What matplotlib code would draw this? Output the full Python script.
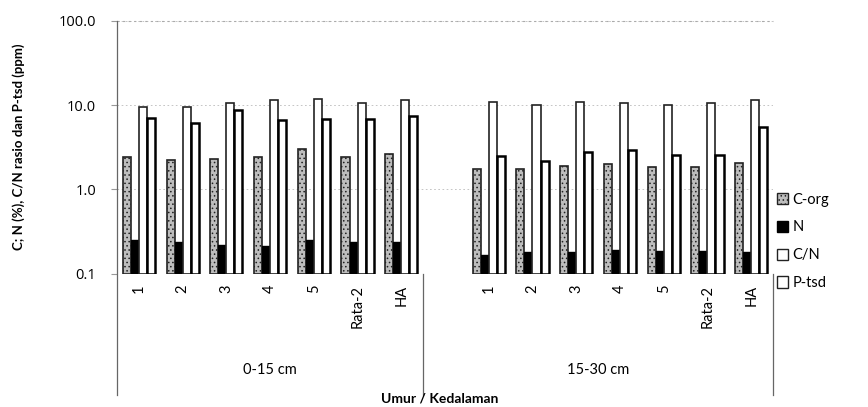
import matplotlib

matplotlib.use("Agg")
import matplotlib.pyplot as plt  # noqa: E402
import numpy as np  # noqa: E402
from matplotlib.patches import Patch  # noqa: E402
from matplotlib.transforms import blended_transform_factory  # noqa: E402

plt.rcParams["font.family"] = ["Lato", "DejaVu Sans"]
plt.rcParams["hatch.linewidth"] = 0.6

# categories per depth band
umur = ["1", "2", "3", "4", "5", "Rata-2", "HA"]
kedalaman = ["0-15 cm", "15-30 cm"]

# 0-15 cm
c_org_1 = [2.40, 2.21, 2.31, 2.40, 2.98, 2.44, 2.60]
n_1 = [0.25, 0.24, 0.22, 0.21, 0.25, 0.235, 0.235]
cn_1 = [9.55, 9.47, 10.6, 11.6, 11.8, 10.5, 11.4]
ptsd_1 = [7.07, 6.07, 8.65, 6.64, 6.83, 6.88, 7.41]

# 15-30 cm
c_org_2 = [1.73, 1.76, 1.91, 1.98, 1.85, 1.84, 2.03]
n_2 = [0.165, 0.182, 0.18, 0.19, 0.187, 0.184, 0.18]
cn_2 = [10.9, 10.0, 10.9, 10.5, 10.0, 10.5, 11.6]
ptsd_2 = [2.48, 2.17, 2.79, 2.95, 2.57, 2.57, 5.48]

# one empty slot between the two depth bands
x1 = np.arange(len(umur))
x2 = np.arange(len(umur)) + len(umur) + 1
x = np.concatenate([x1, x2])
c_org = c_org_1 + c_org_2
n = n_1 + n_2
cn = cn_1 + cn_2
ptsd = ptsd_1 + ptsd_2

fig = plt.figure(figsize=(8.68, 4.07), dpi=100)
ax = fig.add_axes([0.1348, 0.3278, 0.7558, 0.6213])

w = 0.184
base = 0.1
ax.bar(x - 1.5 * w, np.array(c_org) - base, w, bottom=base, color="#bdbdbd",
       edgecolor="#222222", hatch="....", linewidth=1.2)
ax.bar(x - 0.5 * w, np.array(n) - base, w, bottom=base, color="black",
       edgecolor="black", linewidth=1.0)
ax.bar(x + 0.5 * w, np.array(cn) - base, w, bottom=base, color="white",
       edgecolor="#222222", linewidth=1.2)
ax.bar(x + 1.5 * w, np.array(ptsd) - base, w, bottom=base, color="white",
       edgecolor="black", linewidth=1.8)

ax.set_yscale("log")
ax.set_ylim(0.1, 100)
ax.set_xlim(-0.5, x2[-1] + 0.5)
ax.set_yticks([0.1, 1, 10, 100])
ax.set_yticklabels(["0.1", "1.0", "10.0", "100.0"], family="Open Sans", fontsize=10.5)
ax.yaxis.set_minor_locator(matplotlib.ticker.NullLocator())
ax.tick_params(axis="y", length=4, color="#999999", pad=11)
ax.yaxis.grid(True, linestyle=(0, (2, 3)), color="#bbbbbb", linewidth=0.6)
ax.set_axisbelow(True)

ax.set_xticks(x)
ax.set_xticklabels(umur + umur, rotation=90, fontsize=10.5)
ax.tick_params(axis="x", length=0, pad=8)

for side in ["top", "right", "bottom", "left"]:
    ax.spines[side].set_visible(False)

# top border of the plot area
ax.axhline(100, color="#aaaaaa", linestyle=(0, (2, 3)), linewidth=0.8, clip_on=False)

# vertical dividers of the two-level category axis
tr = blended_transform_factory(ax.transData, ax.transAxes)
for xd, top in [(-0.5, 1.0), (len(umur) - 0.5, 0.0), (x2[-1] + 0.5, 0.0)]:
    ax.plot([xd, xd], [top, -0.48], color="#666666", linewidth=0.9,
            transform=tr, clip_on=False)

ax.text((x1[0] + x1[-1]) / 2, -0.38, kedalaman[0], transform=tr,
        ha="center", va="center", fontsize=10.5)
ax.text((len(umur) - 0.5 + x2[-1] + 0.5) / 2, -0.38, kedalaman[1], transform=tr,
        ha="center", va="center", fontsize=10.5)

fig.text(0.507, 0.02, "Umur / Kedalaman", ha="center", va="center",
         fontsize=10, fontweight="bold")
fig.text(0.022, 0.64, "C; N (%), C/N rasio dan P-tsd (ppm)", rotation=90,
         ha="center", va="center", fontsize=9.5, fontweight="bold")

handles = [
    Patch(facecolor="#bdbdbd", edgecolor="#222222", hatch="....", linewidth=1.0, label="C-org"),
    Patch(facecolor="black", edgecolor="black", linewidth=1.0, label="N"),
    Patch(facecolor="white", edgecolor="#222222", linewidth=1.0, label="C/N"),
    Patch(facecolor="white", edgecolor="#222222", linewidth=1.0, label="P-tsd"),
]
fig.legend(handles=handles, loc="center left", bbox_to_anchor=(0.888, 0.407),
           frameon=False, fontsize=10.5, handlelength=0.8, handleheight=0.8,
           handletextpad=0.3, labelspacing=0.95, borderaxespad=0)

fig.savefig("out.png", dpi=100)
plt.close(fig)
